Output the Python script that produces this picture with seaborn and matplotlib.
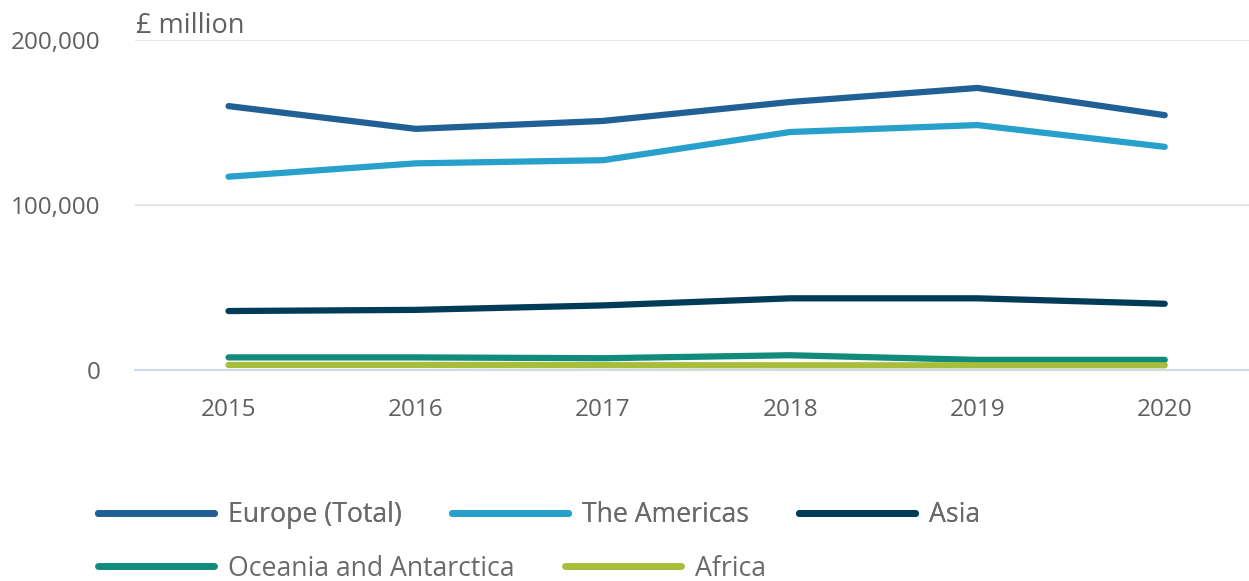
import matplotlib
matplotlib.use("Agg")
import matplotlib.pyplot as plt
import seaborn as sns
import pandas as pd
from matplotlib.ticker import FuncFormatter

years = [2015, 2016, 2017, 2018, 2019, 2020]
europe = [160000, 146200, 151000, 162500, 171000, 154500]
americas = [117200, 125300, 127200, 144300, 148500, 135300]
asia = [35800, 36500, 39200, 43500, 43500, 40200]
oceania = [7700, 7700, 7200, 9000, 6200, 6200]
africa = [3100, 3100, 3000, 2900, 2900, 2900]

names = ["Europe (Total)", "The Americas", "Asia", "Oceania and Antarctica", "Africa"]
colors = ["#206095", "#27a0cc", "#003c57", "#118c7b", "#a8bd3a"]

rows = []
for name, vals in zip(names, [europe, americas, asia, oceania, africa]):
    for y, v in zip(years, vals):
        rows.append({"year": y, "value": v, "region": name})
df = pd.DataFrame(rows)

sns.set_style("white")
plt.rcParams["font.family"] = ["Open Sans", "DejaVu Sans"]

fig = plt.figure(figsize=(12.49, 5.81), dpi=100)
ax = fig.add_axes([0.108, 0.363, 0.892, 0.568])

sns.lineplot(data=df, x="year", y="value", hue="region", hue_order=names,
             palette=colors, linewidth=4.5, ax=ax, legend=False,
             solid_capstyle="round")

ax.set_xlim(2014.5, 2020.45)
ax.set_ylim(0, 200000)
ax.set_yticks([0, 100000, 200000])
ax.yaxis.set_major_formatter(FuncFormatter(lambda v, p: f"{int(v):,}"))
ax.set_xticks(years)
ax.grid(axis="y", color="#e2e2e2", linewidth=1.2)
ax.set_axisbelow(True)
for s in ["top", "right", "left"]:
    ax.spines[s].set_visible(False)
ax.spines["bottom"].set_color("#d0d9ea")
ax.spines["bottom"].set_linewidth(1.5)
ax.tick_params(axis="x", length=15, width=1.5, color="#d0d9ea", labelsize=17.5,
               labelcolor="#606060", pad=5)
ax.tick_params(axis="y", length=0, labelsize=17.5, labelcolor="#606060", pad=25)
ax.set_xlabel("")
ax.set_ylabel("")
fig.text(0.109, 0.956, "£ million", fontsize=19.5, color="#606060", va="center")

handles = [plt.Line2D([], [], color=c, linewidth=5) for c in colors]
kw = dict(frameon=False, fontsize=19.2, handlelength=4.35, handletextpad=0.52,
          columnspacing=1.88, labelcolor="#6a6a6a")
leg1 = fig.legend(handles[:3], names[:3], loc="center left", bbox_to_anchor=(0.0595, 0.113),
                  ncol=3, **kw)
fig.add_artist(leg1)
fig.legend(handles[3:], names[3:], loc="center left", bbox_to_anchor=(0.0595, 0.021),
           ncol=2, **kw)

fig.savefig("out.png", dpi=100)
